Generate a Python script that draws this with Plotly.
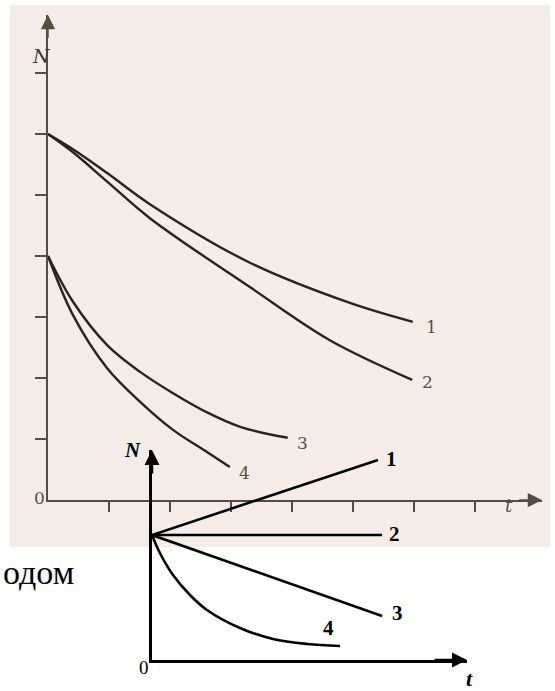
import plotly.graph_objects as go

W, H = 555, 691

# ---------------- data: upper (scanned) chart ----------------
top_t1 = [0, 0.41, 0.97, 1.67, 3.31, 4.95, 5.98]
top_n1 = [6.0, 5.75, 5.36, 4.85, 3.89, 3.23, 2.92]
top_t2 = [0, 0.41, 0.97, 1.67, 3.31, 4.62, 5.97]
top_n2 = [6.0, 5.70, 5.22, 4.62, 3.49, 2.62, 1.97]
top_t3 = [0, 0.41, 0.97, 1.51, 2.05, 2.60, 3.15, 3.93]
top_n3 = [4.0, 3.25, 2.54, 2.10, 1.75, 1.44, 1.20, 1.02]
top_t4 = [0, 0.41, 0.97, 1.51, 2.05, 2.60, 2.98]
top_n4 = [4.0, 3.03, 2.16, 1.61, 1.15, 0.79, 0.54]
top_labels = ["1", "2", "3", "4"]
top_xticks = [1, 2, 3, 4, 5, 6, 7]
top_yticks = [1, 2, 3, 4, 5, 6, 7]

# ---------------- data: lower (overlay) chart ----------------
bot_t1 = [0, 10.0]
bot_n1 = [5.0, 8.0]
bot_t2 = [0, 10.18]
bot_n2 = [5.0, 5.0]
bot_t3 = [0, 10.18]
bot_n3 = [5.0, 1.76]
bot_t4 = [0, 0.35, 0.93, 1.68, 2.43, 3.89, 5.35, 6.86, 8.32]
bot_n4 = [5.0, 4.28, 3.40, 2.60, 2.00, 1.28, 0.84, 0.64, 0.56]
bot_labels = ["1", "2", "3", "4"]


def px(x):
    return x / W


def py(y):
    return 1 - y / H


TOP_X0, TOP_XTIP, TOP_UX = 48, 542, 61.0
TOP_Y0, TOP_YTIP, TOP_UY = 500, 15, 61.0
BOT_X0, BOT_XTIP, BOT_UX = 152, 467, 22.6
BOT_Y0, BOT_YTIP, BOT_UY = 660, 450, 25.0

top_xmax = (TOP_XTIP - TOP_X0) / TOP_UX
top_ymax = (TOP_Y0 - TOP_YTIP) / TOP_UY
bot_xmax = (BOT_XTIP - BOT_X0) / BOT_UX
bot_ymax = (BOT_Y0 - BOT_YTIP) / BOT_UY

CURVE = "#2a2320"
AXC = "#564c46"
LBL = "#574e49"

fig = go.Figure()

for t, n in [(top_t1, top_n1), (top_t2, top_n2), (top_t3, top_n3), (top_t4, top_n4)]:
    fig.add_trace(go.Scatter(x=t, y=n, mode="lines", line=dict(color=CURVE, width=2.4, shape="spline", smoothing=1.0),
                             xaxis="x", yaxis="y", hoverinfo="skip", showlegend=False, cliponaxis=False))

for t, n, sh in [(bot_t1, bot_n1, "linear"), (bot_t2, bot_n2, "linear"), (bot_t3, bot_n3, "linear"), (bot_t4, bot_n4, "spline")]:
    fig.add_trace(go.Scatter(x=t, y=n, mode="lines", line=dict(color="black", width=2.6, shape=sh, smoothing=1.0),
                             xaxis="x2", yaxis="y2", hoverinfo="skip", showlegend=False, cliponaxis=False))

ann = []
# curve labels, top chart
top_ends = [(top_t1[-1], top_n1[-1]), (top_t2[-1], top_n2[-1]), (top_t3[-1], top_n3[-1]), (top_t4[-1], top_n4[-1])]
top_shift = [(19, -5), (15, -2), (15, -5), (15, -6)]
for lab, (tx, ny), (dx, dy) in zip(top_labels, top_ends, top_shift):
    ann.append(dict(x=tx, y=ny, xref="x", yref="y", text=lab, showarrow=False, xshift=dx, yshift=dy,
                    font=dict(family="DejaVu Serif", size=17, color=LBL)))
# curve labels, bottom chart
bot_ends = [(bot_t1[-1], bot_n1[-1]), (bot_t2[-1], bot_n2[-1]), (bot_t3[-1], bot_n3[-1]), (bot_t4[-1], bot_n4[-1])]
bot_shift = [(13, 1), (12, 1), (15, 3), (-12, 18)]
for lab, (tx, ny), (dx, dy) in zip(bot_labels, bot_ends, bot_shift):
    ann.append(dict(x=tx, y=ny, xref="x2", yref="y2", text="<b>" + lab + "</b>", showarrow=False, xshift=dx, yshift=dy,
                    font=dict(family="Liberation Serif", size=21, color="black")))

# axis arrowheads
ann.append(dict(x=0, y=top_ymax, ax=0, ay=top_ymax - 0.4, xref="x", yref="y", axref="x", ayref="y", text="",
                showarrow=True, arrowhead=2, arrowsize=1.9, arrowwidth=1.5, arrowcolor=AXC))
ann.append(dict(x=top_xmax, y=0, ax=top_xmax - 0.4, ay=0, xref="x", yref="y", axref="x", ayref="y", text="",
                showarrow=True, arrowhead=2, arrowsize=1.9, arrowwidth=1.5, arrowcolor=AXC))
ann.append(dict(x=0, y=bot_ymax, ax=0, ay=bot_ymax - 1.0, xref="x2", yref="y2", axref="x2", ayref="y2", text="",
                showarrow=True, arrowhead=2, arrowsize=1.2, arrowwidth=2.5, arrowcolor="black"))
ann.append(dict(x=bot_xmax, y=0, ax=bot_xmax - 1.5, ay=0, xref="x2", yref="y2", axref="x2", ayref="y2", text="",
                showarrow=True, arrowhead=2, arrowsize=1.2, arrowwidth=2.5, arrowcolor="black"))

# axis titles and stray text
ann += [
    dict(x=px(30), y=py(43), xref="paper", yref="paper", text="<i>N</i>", showarrow=False,
         font=dict(family="DejaVu Serif", size=19, color="#3e3632")),
    dict(x=px(32), y=py(510), xref="paper", yref="paper", text="0", showarrow=False,
         font=dict(family="DejaVu Serif", size=17, color=LBL)),
    dict(x=px(515), y=py(518), xref="paper", yref="paper", text="<i>t</i>", showarrow=False,
         font=dict(family="DejaVu Serif", size=18, color=LBL)),
    dict(x=px(122), y=py(450), xref="paper", yref="paper", text="<b><i>N</i></b>", showarrow=False,
         font=dict(family="Liberation Serif", size=21, color="black")),
    dict(x=px(137), y=py(680), xref="paper", yref="paper", text="0", showarrow=False,
         font=dict(family="Liberation Serif", size=19, color="black")),
    dict(x=px(475), y=py(693), xref="paper", yref="paper", text="<b><i>t</i></b>", showarrow=False,
         font=dict(family="Liberation Serif", size=22, color="black")),
    dict(x=px(1), y=py(593), xref="paper", yref="paper", text="одом", showarrow=False, xanchor="left",
         font=dict(family="Liberation Serif", size=34, color="black")),
]

shapes = [dict(type="rect", xref="paper", yref="paper", x0=px(10), x1=px(550), y0=py(547), y1=py(5),
               fillcolor="#f3ece8", line=dict(width=0), layer="below")]

common = dict(showgrid=False, zeroline=False, showticklabels=False, fixedrange=True)

fig.update_layout(
    width=W, height=H, autosize=False,
    margin=dict(l=0, r=0, t=0, b=0),
    paper_bgcolor="white", plot_bgcolor="rgba(0,0,0,0)",
    showlegend=False,
    xaxis=dict(domain=[px(TOP_X0), px(TOP_XTIP)], range=[0, top_xmax], anchor="y",
               showline=True, linecolor=AXC, linewidth=1.5, ticks="outside", tickvals=top_xticks,
               ticklen=10, tickwidth=1.5, tickcolor=AXC, **common),
    yaxis=dict(domain=[py(TOP_Y0), py(TOP_YTIP)], range=[0, top_ymax], anchor="x",
               showline=True, linecolor=AXC, linewidth=1.5, ticks="outside", tickvals=top_yticks,
               ticklen=11, tickwidth=1.5, tickcolor=AXC, **common),
    xaxis2=dict(domain=[px(BOT_X0), px(BOT_XTIP)], range=[0, bot_xmax], anchor="y2",
                showline=True, linecolor="black", linewidth=2.5, ticks="", **common),
    yaxis2=dict(domain=[py(BOT_Y0), py(BOT_YTIP)], range=[0, bot_ymax], anchor="x2",
                showline=True, linecolor="black", linewidth=2.5, ticks="", **common),
    annotations=ann,
    shapes=shapes,
)

fig.write_html("out.html", config={"displayModeBar": False},
               post_script="document.body.style.margin='0';")
